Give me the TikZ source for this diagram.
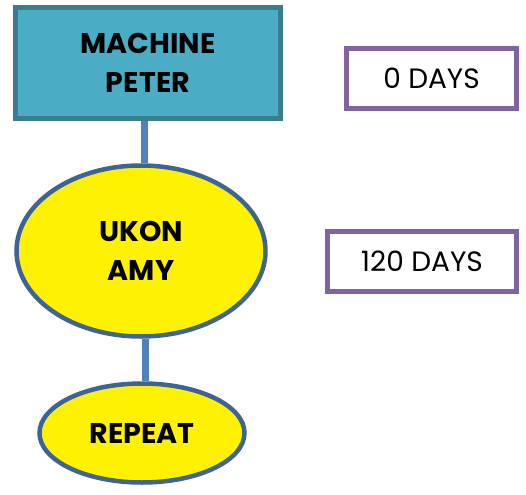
\documentclass[tikz,border=0pt]{standalone}
\usepackage{fontspec}
\setmainfont{Poppins}
\usetikzlibrary{shapes.geometric}
\definecolor{tealfill}{HTML}{4BACC6}
\definecolor{tealline}{HTML}{3A7D8E}
\definecolor{ovalline}{HTML}{3E6496}
\definecolor{linkblue}{HTML}{4F81BD}
\definecolor{daysline}{HTML}{8064A2}
\begin{document}
\begin{tikzpicture}
  [x=1pt,y=-1pt,
   every node/.style={align=center,inner sep=0pt,text=black},
   namebox/.style={rectangle,draw=tealline,fill=tealfill,line width=5pt,font=\bfseries\fontsize{28.5}{39.5}\selectfont},
   oval/.style={ellipse,draw=ovalline,fill=yellow,line width=4.5pt,font=\bfseries\fontsize{28.5}{39.5}\selectfont},
   daysbox/.style={rectangle,draw=daysline,line width=5pt,minimum height=60pt,font=\fontsize{28}{32}\selectfont}]
  \useasboundingbox (0,0) rectangle (526,494);
  \node[namebox,minimum width=265pt,minimum height=111pt] (mp) at (148,63) {MACHINE\\PETER};
  \node[oval,minimum width=249pt,minimum height=171pt] (ua) at (141,251) {UKON\\AMY};
  \node[oval,minimum width=205pt,minimum height=99pt] (rp) at (142,433) {REPEAT};
  \node[daysbox,minimum width=170pt] (d0) at (431.5,78.5) {0 DAYS};
  \node[daysbox,minimum width=189pt] (d120) at (422,261.5) {120 DAYS};
  \draw[linkblue,line width=7pt] ([xshift=3pt]ua.north) -- ([xshift=3pt]ua.north |- mp.south);
  \draw[linkblue,line width=7pt] ([xshift=3pt]rp.north) -- ([xshift=3pt]rp.north |- ua.south);
\end{tikzpicture}
\end{document}
